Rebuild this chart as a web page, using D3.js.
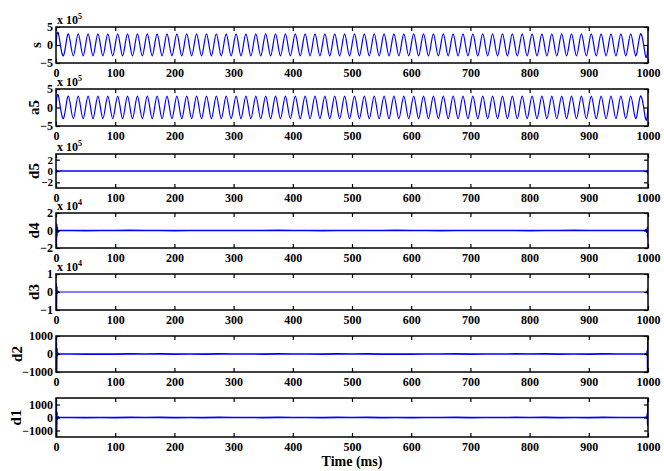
<!DOCTYPE html>
<html><head><meta charset="utf-8">
<script src="https://cdn.jsdelivr.net/npm/d3@7"></script>
<style>
body{margin:0;background:#fff}
svg text{font-family:"Liberation Serif","Times New Roman",serif;font-weight:bold;fill:#000}
</style>
</head><body><svg id="c" width="664" height="471"></svg>
<script>
// ---------------- DATA ----------------
const xTicks = [0,100,200,300,400,500,600,700,800,900,1000];

// times (ms) of the start, every peak/trough, and end of the 60 Hz signal
const sineTimes = [0,
 4.2,12.5,20.8,29.2,37.5,45.8,54.2,62.5,70.8,79.2,87.5,95.8,
 104.2,112.5,120.8,129.2,137.5,145.8,154.2,162.5,170.8,179.2,187.5,195.8,
 204.2,212.5,220.8,229.2,237.5,245.8,254.2,262.5,270.8,279.2,287.5,295.8,
 304.2,312.5,320.8,329.2,337.5,345.8,354.2,362.5,370.8,379.2,387.5,395.8,
 404.2,412.5,420.8,429.2,437.5,445.8,454.2,462.5,470.8,479.2,487.5,495.8,
 504.2,512.5,520.8,529.2,537.5,545.8,554.2,562.5,570.8,579.2,587.5,595.8,
 604.2,612.5,620.8,629.2,637.5,645.8,654.2,662.5,670.8,679.2,687.5,695.8,
 704.2,712.5,720.8,729.2,737.5,745.8,754.2,762.5,770.8,779.2,787.5,795.8,
 804.2,812.5,820.8,829.2,837.5,845.8,854.2,862.5,870.8,879.2,887.5,895.8,
 904.2,912.5,920.8,929.2,937.5,945.8,954.2,962.5,970.8,979.2,987.5,995.8,
 1000];

// s (x 10^5)
const sValues = [0,
 3.1,-3.0,3.1,-3.0,3.1,-3.0,3.1,-3.0,3.1,-3.0,3.1,-3.0,
 3.1,-3.0,3.1,-3.0,3.1,-3.0,3.1,-3.0,3.1,-3.0,3.1,-3.0,
 3.1,-3.0,3.1,-3.0,3.1,-3.0,3.1,-3.0,3.1,-3.0,3.1,-3.0,
 3.1,-3.0,3.1,-3.0,3.1,-3.0,3.1,-3.0,3.1,-3.0,3.1,-3.0,
 3.1,-3.0,3.1,-3.0,3.1,-3.0,3.1,-3.0,3.1,-3.0,3.1,-3.0,
 3.1,-3.0,3.1,-3.0,3.1,-3.0,3.1,-3.0,3.1,-3.0,3.1,-3.0,
 3.1,-3.0,3.1,-3.0,3.1,-3.0,3.1,-3.0,3.1,-3.0,3.1,-3.0,
 3.1,-3.0,3.1,-3.0,3.1,-3.0,3.1,-3.0,3.1,-3.0,3.1,-3.0,
 3.1,-3.0,3.1,-3.0,3.1,-3.0,3.1,-3.0,3.1,-3.0,3.1,-3.0,
 3.1,-3.0,3.1,-3.0,3.1,-3.0,3.1,-3.0,3.1,-3.0,3.1,-3.0,
 0];

// a5 (x 10^5)
const a5Values = [0,
 3.1,-3.0,3.1,-3.0,3.1,-3.0,3.1,-3.0,3.1,-3.0,3.1,-3.0,
 3.1,-3.0,3.1,-3.0,3.1,-3.0,3.1,-3.0,3.1,-3.0,3.1,-3.0,
 3.1,-3.0,3.1,-3.0,3.1,-3.0,3.1,-3.0,3.1,-3.0,3.1,-3.0,
 3.1,-3.0,3.1,-3.0,3.1,-3.0,3.1,-3.0,3.1,-3.0,3.1,-3.0,
 3.1,-3.0,3.1,-3.0,3.1,-3.0,3.1,-3.0,3.1,-3.0,3.1,-3.0,
 3.1,-3.0,3.1,-3.0,3.1,-3.0,3.1,-3.0,3.1,-3.0,3.1,-3.0,
 3.1,-3.0,3.1,-3.0,3.1,-3.0,3.1,-3.0,3.1,-3.0,3.1,-3.0,
 3.1,-3.0,3.1,-3.0,3.1,-3.0,3.1,-3.0,3.1,-3.0,3.1,-3.0,
 3.1,-3.0,3.1,-3.0,3.1,-3.0,3.1,-3.0,3.1,-3.0,3.1,-3.0,
 3.1,-3.0,3.1,-3.0,3.1,-3.0,3.1,-3.0,3.1,-3.0,3.1,-3.0,
 0];

// sample times (ms) for the detail coefficients
const detailTimes = [0,0.5,1,1.5,2,3,5,
 25,50,75,100,125,150,175,200,225,250,275,300,325,350,375,400,425,450,475,500,
 525,550,575,600,625,650,675,700,725,750,775,800,825,850,875,900,925,950,975,
 995,997,998,999,999.5,1000];

// d5 (x 10^5)
const d5Values = [0,0.2,-0.2,0.1,0,0,0,
 0.005,-0.008,0.003,-0.005,0.008,-0.003,0.005,-0.008,0.003,-0.005,0.005,-0.003,0.003,-0.005,0.008,-0.003,0.005,-0.008,0.003,-0.005,
 0.005,-0.003,0.008,-0.005,0.003,-0.008,0.005,-0.003,0.005,-0.005,0.003,-0.008,0.005,-0.003,0.008,-0.005,0.003,-0.005,0.005,
 0,0,-0.1,0.1,-0.3,0];

// d4 (x 10^4)
const d4Values = [0,-2.2,0.7,-0.6,0.4,-0.2,0,
 0.008,-0.01,0.005,-0.008,0.01,-0.005,0.008,-0.01,0.005,-0.008,0.008,-0.005,0.005,-0.008,0.01,-0.005,0.008,-0.01,0.005,-0.008,
 0.008,-0.005,0.01,-0.008,0.005,-0.01,0.008,-0.005,0.008,-0.008,0.005,-0.01,0.008,-0.005,0.01,-0.008,0.005,-0.008,0.008,
 0,0.1,-0.2,0.3,-0.8,-0.4];

// d3 (x 10^4)
const d3Values = [0,0.45,-1.2,0.3,-0.1,0.05,0,
 0,0,0,0,0,0,0,0,0,0,0,0,0,0,0,0,0,0,0,0,
 0,0,0,0,0,0,0,0,0,0,0,0,0,0,0,0,0,0,0,
 0,0,0.05,-0.1,0.15,-0.1];

// d2
const d2Values = [0,1200,-1200,300,-100,50,0,
 4,-6,3,-8,5,-3,7,-5,2,-7,6,-3,4,-5,8,-4,2,-7,5,-3,
 6,-5,3,-8,4,-2,7,-6,3,-4,5,-4,7,-6,2,-5,6,-3,4,
 0,30,-50,200,-1200,1200];

// d1
const d1Values = [0,1300,-1600,400,-150,60,0,
 5,-7,3,-10,6,-4,8,-6,3,-9,7,-4,5,-7,10,-5,3,-8,6,-3,
 8,-6,4,-10,5,-3,9,-7,4,-5,7,-5,9,-8,2,-6,7,-4,5,
 0,40,-60,300,-600,1600];

const panelNames = ["s","a5","d5","d4","d3","d2","d1"];
const yTickSets = [[-5,0,5],[-5,0,5],[-2,0,2],[-2,0,2],[-1,0,1],[-1000,0,1000],[-1000,0,1000]];
const exponents = ["5","5","5","4","4",null,null];

// ---------------- LAYOUT ----------------
const svg = d3.select("#c");
const X0 = 56, X1 = 648;
const panels = [
  {top:27,  bottom:63,  dom:[-5,5],       t:sineTimes,   v:sValues,  sw:1.2, lx:36, fs:12},
  {top:89,  bottom:126, dom:[-5,5],       t:sineTimes,   v:a5Values, sw:1.2, lx:34, fs:12},
  {top:154, bottom:188, dom:[-3,3],       t:detailTimes, v:d5Values, sw:1.6, lx:34, fs:11},
  {top:213, bottom:248, dom:[-2,2],       t:detailTimes, v:d4Values, sw:1.6, lx:34, fs:12},
  {top:274, bottom:310, dom:[-1,1],       t:detailTimes, v:d3Values, sw:1.2, lx:34, fs:12},
  {top:336, bottom:372, dom:[-1000,1000], t:detailTimes, v:d2Values, sw:1.6, lx:17, fs:12},
  {top:398, bottom:437, dom:[-1500,1500], t:detailTimes, v:d1Values, sw:1.6, lx:16, fs:12}
];

const x = d3.scaleLinear().domain([0,1000]).range([X0,X1]);

panels.forEach((p,i) => {
  const y = d3.scaleLinear().domain(p.dom).range([p.bottom,p.top]);
  const g = svg.append("g");

  const clipId = "clip"+i;
  svg.append("clipPath").attr("id",clipId).append("rect")
    .attr("x",X0).attr("y",p.top).attr("width",X1-X0).attr("height",p.bottom-p.top);

  const pts = p.t.map((t,k)=>[t,p.v[k]]);
  const line = d3.line().x(d=>x(d[0])).y(d=>y(d[1]))
    .curve(p.t===sineTimes ? d3.curveNatural : d3.curveLinear);
  g.append("path").datum(pts).attr("clip-path",`url(#${clipId})`)
    .attr("d",line).attr("fill","none").attr("stroke","#0000ff")
    .attr("stroke-width",p.sw).attr("stroke-linejoin","round");

  const ab = g.append("g").attr("transform",`translate(0,${p.bottom})`)
    .call(d3.axisBottom(x).tickValues(xTicks).tickSizeInner(-4).tickSizeOuter(0).tickPadding(5).tickFormat(d3.format("d")));
  const at = g.append("g").attr("transform",`translate(0,${p.top})`)
    .call(d3.axisTop(x).tickValues(xTicks).tickSizeInner(-4).tickSizeOuter(0).tickFormat(""));
  const al = g.append("g").attr("transform",`translate(${X0},0)`)
    .call(d3.axisLeft(y).tickValues(yTickSets[i]).tickSizeInner(-4).tickSizeOuter(0).tickPadding(3).tickFormat(d3.format("d")));
  const ar = g.append("g").attr("transform",`translate(${X1},0)`)
    .call(d3.axisRight(y).tickValues(yTickSets[i]).tickSizeInner(-4).tickSizeOuter(0).tickFormat(""));

  [ab,at,ar].forEach(a=>{
    a.select(".domain").remove();
    a.selectAll("line").attr("stroke","#000").attr("stroke-width",1.2);
    a.selectAll("text").attr("font-size",12).attr("font-family",null).attr("fill","#000");
  });
  al.select(".domain").remove();
  al.selectAll("line").attr("stroke","#000").attr("stroke-width",1.2);
  al.selectAll("text").attr("font-size",p.fs).attr("font-family",null).attr("fill","#000");

  g.append("rect").attr("x",X0).attr("y",p.top).attr("width",X1-X0).attr("height",p.bottom-p.top)
    .attr("fill","none").attr("stroke","#000").attr("stroke-width",1.5);

  g.append("text").attr("transform",`translate(${p.lx+5},${(p.top+p.bottom)/2}) rotate(-90)`)
    .attr("text-anchor","middle").attr("font-size",15).text(panelNames[i]);

  if (exponents[i]) {
    const e = g.append("text").attr("x",X0+1).attr("y",p.top-3).attr("font-size",12);
    e.append("tspan").text("x 10");
    e.append("tspan").attr("font-size",8).attr("dy",-5).text(exponents[i]);
  }
});

svg.append("text").attr("x",352).attr("y",466).attr("text-anchor","middle")
  .attr("font-size",14).text("Time (ms)");
</script>
</body></html>
